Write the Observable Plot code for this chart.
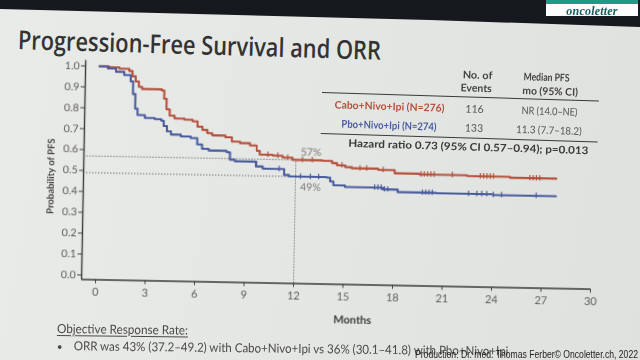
<!DOCTYPE html>
<html><head><meta charset="utf-8">
<script src="https://cdn.jsdelivr.net/npm/d3@7"></script>
<script src="https://cdn.jsdelivr.net/npm/@observablehq/plot@0.6"></script>
<style>
html,body{margin:0;padding:0;width:640px;height:360px;overflow:hidden;}
body{position:relative;background:#e4e6e3;font-family:Lato,"Open Sans",sans-serif;-webkit-font-smoothing:antialiased;}
#bg{position:absolute;left:0;top:0;width:640px;height:360px;background:linear-gradient(100deg,#e9ebe8 0%,#e5e7e4 45%,#dfe1de 100%);}
#band{position:absolute;left:0;top:0;width:640px;height:32px;background:#15191d;clip-path:polygon(0 0,640px 0,640px 27px,430px 20px,0 9px);}
.layer{position:absolute;left:0;top:0;width:640px;height:360px;}
.t{position:absolute;white-space:nowrap;line-height:1;display:inline-block;}
#logo{position:absolute;left:546px;top:0;width:92px;height:16px;background:#fbfcfb;}
#logo .stripe{position:absolute;left:0;top:0;width:92px;height:3.5px;background:#1e9a86;}
#logo .name{position:absolute;left:0;top:4px;width:92px;text-align:center;font:italic bold 12px "Liberation Serif",serif;color:#1b5b5c;letter-spacing:0.2px;}
#chart svg{will-change:transform;}
#chart svg text{text-rendering:geometricPrecision;}
</style></head>
<body>
<div id="bg"></div>
<div id="band"></div>
<div id="title" class="layer"></div>
<div id="chart" class="layer"></div>
<div id="table" class="layer"></div>
<div id="notes" class="layer"></div>
<div id="foot" class="layer"></div>
<div id="logo"><div class="stripe"></div><div class="name">oncoletter</div></div>
<script>
// ---------- data ----------
const caboTime = [0, 0.6, 1.2, 1.8, 2.0, 2.2, 2.4, 2.6, 3.8, 3.95, 4.1, 4.3, 4.6, 5.2, 5.7, 6.0, 6.3, 6.6, 6.9, 7.7, 8.1, 8.6, 9.2, 9.6, 9.8, 10.6, 11.2, 11.8, 13.6, 14.2, 14.5, 15.0, 15.4, 17.0, 18.0, 19.5, 22.4, 25.0, 27.8];
const caboSurv = [1.0, 0.996, 0.99, 0.98, 0.955, 0.93, 0.905, 0.895, 0.89, 0.85, 0.80, 0.77, 0.757, 0.752, 0.745, 0.72, 0.705, 0.69, 0.68, 0.672, 0.652, 0.645, 0.635, 0.61, 0.592, 0.588, 0.58, 0.57, 0.568, 0.558, 0.548, 0.54, 0.535, 0.53, 0.515, 0.512, 0.508, 0.504, 0.504];
const pboTime = [0, 0.5, 1.0, 1.5, 1.9, 2.05, 2.2, 2.35, 2.8, 3.4, 3.8, 3.95, 4.15, 4.4, 5.0, 5.6, 6.0, 6.3, 6.7, 7.8, 8.0, 8.3, 9.6, 10.0, 11.3, 11.6, 13.9, 14.1, 14.3, 15.0, 17.3, 18.2, 20.5, 24.0, 27.8];
const pboSurv = [1.0, 0.99, 0.975, 0.96, 0.93, 0.87, 0.80, 0.77, 0.757, 0.752, 0.745, 0.72, 0.695, 0.68, 0.672, 0.665, 0.635, 0.615, 0.607, 0.60, 0.565, 0.558, 0.535, 0.525, 0.497, 0.49, 0.488, 0.47, 0.452, 0.445, 0.437, 0.425, 0.423, 0.42, 0.42];
const caboCensor = [10.3, 10.9, 11.5, 12.4, 13.0, 14.8, 15.9, 16.3, 17.3, 19.6, 19.8, 20.0, 20.2, 20.4, 21.5, 23.2, 23.4, 23.6, 23.8, 24.0, 26.2, 26.4, 26.6, 26.8];
const pboCensor = [11.0, 12.3, 12.9, 13.4, 16.8, 17.0, 17.2, 17.4, 17.6, 19.7, 19.9, 20.1, 20.3, 22.5, 23.0, 23.3, 23.6, 24.0, 24.5, 26.6];
const xTicks = [0, 3, 6, 9, 12, 15, 18, 21, 24, 27, 30];
const yTicks = [0, 0.1, 0.2, 0.3, 0.4, 0.5, 0.6, 0.7, 0.8, 0.9, 1.0];
const landmarkMonth = 12;
const landmarkRates = [0.57, 0.49];
const landmarkLabels = ["57%", "49%"];
const armNames = ["Cabo+Nivo+Ipi (N=276)", "Pbo+Nivo+Ipi (N=274)"];
const armEvents = ["116", "133"];
const armMedian = ["NR (14.0–NE)", "11.3 (7.7–18.2)"];
const colors = ["#b4503c", "#4a5c9d"];

// ---------- helpers ----------
const xDom = [-0.85, 30], yDom = [-0.0215, 1.026];
const series = (t, s, arm) => t.map((m, i) => ({m, s: s[i], arm}));
const stepAt = (t, s, m) => { let v = s[0]; for (let i = 0; i < t.length; i++) if (t[i] <= m) v = s[i]; return v; };
const censors = (c, t, s, arm) => c.map(m => ({m, s: stepAt(t, s, m), arm}));
const curves = [...series(caboTime, caboSurv, 0), ...series(pboTime, pboSurv, 1)];
const censorData = [...censors(caboCensor, caboTime, caboSurv, 0), ...censors(pboCensor, pboTime, pboSurv, 1)];
const lm = landmarkRates.map((v, i) => ({v, label: landmarkLabels[i]}));
const dotted = {stroke: "#6a6a6a", strokeWidth: 1, strokeDasharray: "1.3,1.7"};

const plot = Plot.plot({
  width: 640, height: 360,
  marginLeft: 83, marginRight: 48, marginTop: 64.5, marginBottom: 76.5,
  x: {domain: xDom}, y: {domain: yDom},
  style: {background: "transparent", fontFamily: "Lato, 'Open Sans', sans-serif", overflow: "visible", color: "#555"},
  marks: [
    Plot.ruleY(lm, {y: "v", x1: xDom[0], x2: landmarkMonth, ...dotted}),
    Plot.ruleX([landmarkMonth], {y1: yDom[0], y2: landmarkRates[0], ...dotted}),
    Plot.line(curves, {x: "m", y: "s", z: "arm", stroke: d => colors[d.arm], curve: "step-after", strokeWidth: 2.1}),
    Plot.ruleX(censorData, {x: "m", y1: d => d.s - 0.013, y2: d => d.s + 0.013, stroke: d => colors[d.arm], strokeWidth: 1.2}),
    Plot.text([lm[0]], {x: landmarkMonth, y: "v", text: "label", dx: 15, dy: -8, fill: "#7a7a7a", fontSize: 10.5}),
    Plot.text([lm[1]], {x: landmarkMonth, y: "v", text: "label", dx: 15, dy: 11, fill: "#7a7a7a", fontSize: 10.5}),
    Plot.ruleX([xDom[0]], {y1: yDom[0], y2: yDom[1], stroke: "#3a3a3a", strokeWidth: 1.4}),
    Plot.ruleY([yDom[0]], {x1: xDom[0], x2: 30, stroke: "#3a3a3a", strokeWidth: 1.4}),
    Plot.axisX({ticks: xTicks, tickSize: 4, tickPadding: 4, fontSize: 11, stroke: "#444", fill: "#5e5e5e", label: null}),
    Plot.axisY({ticks: yTicks, tickFormat: ".1f", tickSize: 4, tickPadding: 2, fontSize: 10.5, stroke: "#444", fill: "#5a5a5a", label: null}),
    Plot.text(["Months"], {x: 15.6, y: -0.189, text: d => d, fontSize: 11, fontWeight: "bold", fill: "#3c3c3c"}),
    Plot.text(["Probability of PFS"], {x: -2.85, y: 0.47, text: d => d, rotate: -90, fontSize: 9.5, fontWeight: "bold", fill: "#444"})
  ]
});
const chart = document.getElementById("chart");
plot.style.position = "absolute"; plot.style.left = "0px"; plot.style.top = "0px";
plot.style.transformOrigin = "320px 180px"; plot.style.transform = "rotate(1.09deg)";
chart.appendChild(plot);

function addText(parent, o) {
  const s = document.createElement("span");
  s.className = "t"; s.textContent = o.text;
  s.style.fontSize = o.size + "px"; s.style.fontWeight = o.weight || "normal";
  s.style.color = o.color || "#444";
  if (o.family) s.style.fontFamily = o.family;
  if (o.underline) { s.style.textDecoration = "underline"; s.style.textUnderlineOffset = "2px"; }
  parent.appendChild(s);
  const w = s.offsetWidth, h = s.offsetHeight;
  const k = o.width ? o.width / w : 1;
  s.style.top = (o.y - h / 2) + "px";
  s.style.left = o.x + "px";
  if (o.anchor === "middle") { s.style.transformOrigin = "50% 50%"; s.style.transform = `translateX(-50%) scaleX(${k})`; }
  else { s.style.transformOrigin = "0 50%"; s.style.transform = `scaleX(${k})`; }
  return s;
}

// title
const title = document.getElementById("title");
title.style.transformOrigin = "18px 38px"; title.style.transform = "rotate(1.7deg)";
addText(title, {text: "Progression-Free Survival and ORR", x: 18, y: 38.5, size: 26, weight: "600", color: "#333", width: 363, family: "'Open Sans', Lato, sans-serif"});

// table
const tbl = document.getElementById("table");
tbl.style.transformOrigin = "322px 92px"; tbl.style.transform = "rotate(1.75deg)";
const hdr = {size: 10.5, weight: "bold", color: "#444", anchor: "middle"};
addText(tbl, {...hdr, text: "No. of", x: 477, y: 70.5, width: 30});
addText(tbl, {...hdr, text: "Events", x: 476, y: 83.5, width: 31});
addText(tbl, {...hdr, text: "Median PFS", x: 546, y: 70.5, width: 46});
addText(tbl, {...hdr, text: "mo (95% CI)", x: 550, y: 84.5, width: 56});
const rule = (y) => { const d = document.createElement("div"); d.style.cssText = `position:absolute;left:322px;top:${y}px;width:277px;height:1.4px;background:#3a3a3a;`; tbl.appendChild(d); };
rule(92); rule(133);
armNames.forEach((n, i) => {
  const y = i === 0 ? 104.5 : 123.5;
  addText(tbl, {text: n, x: 390, y, size: 10.5, weight: "bold", color: colors[i], anchor: "middle", width: i === 0 ? 110 : 95});
  addText(tbl, {text: armEvents[i], x: 475, y, size: 10.5, color: "#555", anchor: "middle", width: 18});
  addText(tbl, {text: armMedian[i], x: 550, y, size: 10.5, color: "#555", anchor: "middle", width: i === 0 ? 56 : 66});
});
addText(tbl, {text: "Hazard ratio 0.73 (95% CI 0.57–0.94); p=0.013", x: 470, y: 142.5, size: 10.5, weight: "bold", color: "#3a3a3a", anchor: "middle", width: 240});

// notes
const notes = document.getElementById("notes");
notes.style.transformOrigin = "57px 330px"; notes.style.transform = "rotate(0.7deg)";
addText(notes, {text: "Objective Response Rate:", x: 57, y: 329, size: 12.5, color: "#4a4a4a", underline: true, width: 131});
addText(notes, {text: "•", x: 57, y: 346, size: 10, color: "#4a4a4a"});
addText(notes, {text: "ORR was 43% (37.2–49.2) with Cabo+Nivo+Ipi vs 36% (30.1–41.8) with Pbo+Nivo+Ipi", x: 74, y: 346, size: 12.5, color: "#4a4a4a", width: 435});

// footer
const foot = document.getElementById("foot");
addText(foot, {text: "Production: Dr. med. Thomas Ferber© Oncoletter.ch, 2022", x: 415, y: 355, size: 10, color: "#1e1e1e", width: 223, family: "'Liberation Sans Narrow','Liberation Sans',sans-serif"});
</script>
</body></html>
